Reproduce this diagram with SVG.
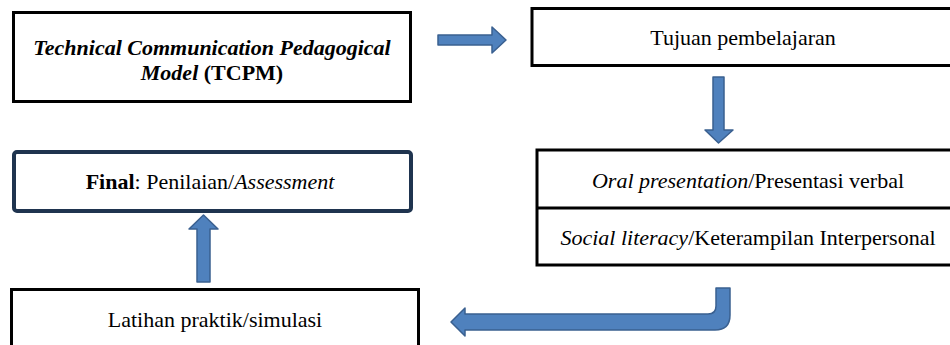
<svg xmlns="http://www.w3.org/2000/svg" width="950" height="345" viewBox="0 0 950 345">
<style>
.box{fill:#fff;stroke:#000;stroke-width:3}
.navy{fill:#fff;stroke:#1f344f;stroke-width:4}
.arr{fill:#4f81bd;stroke:#3a6090;stroke-width:1.5;stroke-linejoin:round}
.b{font-weight:bold}
.i{font-style:italic}
.bi{font-weight:bold;font-style:italic}
text,tspan{font-family:'Liberation Serif','Times New Roman',serif !important}
</style>
<rect width="950" height="345" fill="#fff"/>
<g font-size="22" fill="#000" text-anchor="middle">
<g id="node-tcpm">
<rect class="box" x="13.5" y="12.5" width="397" height="89"/>
<text x="212" y="55" style="font-family:'Liberation Serif', serif"><tspan class="bi">Technical Communication Pedagogical</tspan></text>
<text x="212" y="80" style="font-family:'Liberation Serif', serif"><tspan class="bi">Model</tspan><tspan class="b"> (TCPM)</tspan></text>
</g>
<g id="node-tujuan">
<rect class="box" x="532" y="8.5" width="430" height="57"/>
<text x="743" y="45" style="font-family:'Liberation Serif', serif">Tujuan pembelajaran</text>
</g>
<g id="node-oral">
<rect class="box" x="537" y="150" width="425" height="115"/>
<line x1="537" y1="208" x2="962" y2="208" stroke="#000" stroke-width="3"/>
<text x="748" y="188" style="font-family:'Liberation Serif', serif"><tspan class="i">Oral presentation</tspan>/Presentasi verbal</text>
<text x="748" y="245" style="font-family:'Liberation Serif', serif"><tspan class="i">Social literacy</tspan>/Keterampilan Interpersonal</text>
</g>
<g id="node-final">
<rect class="navy" x="14" y="152" width="397" height="59" rx="3"/>
<text x="210" y="189" style="font-family:'Liberation Serif', serif"><tspan class="b">Final</tspan>: Penilaian/<tspan class="i">Assessment</tspan></text>
</g>
<g id="node-latihan">
<rect class="box" x="11.5" y="289.5" width="407" height="70"/>
<text x="215" y="327" style="font-family:'Liberation Serif', serif">Latihan praktik/simulasi</text>
</g>
</g>
<g id="connectors">
<path class="arr" d="M438,35 H492 V27 L506,40 L492,53 V45 H438 Z"/>
<path class="arr" d="M713,77 H724 V130 H733 L718.5,143 L705,130 H713 Z"/>
<path class="arr" d="M197,282 V229 H189 L203.5,215 L218,229 H210 V282 Z"/>
<path class="arr" d="M716,288 H730 V315 Q730,330 715,330 H465 V336 L451,322 L465,308 V314 H708 Q716,314 716,306 Z"/>
</g>
</svg>
